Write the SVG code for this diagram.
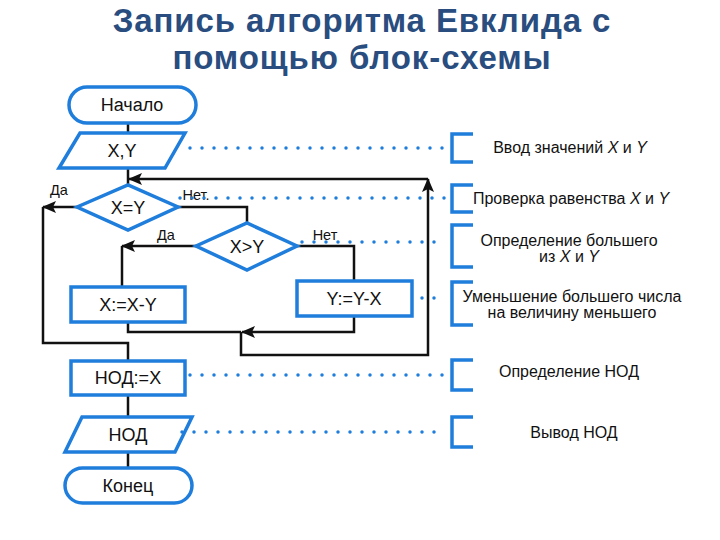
<svg xmlns="http://www.w3.org/2000/svg" width="720" height="540" viewBox="0 0 720 540">
<style>
.shape{fill:#fff;stroke:#1f7ddc;stroke-width:3.5;stroke-linejoin:miter}
.lbl{font-family:"Liberation Sans",Arial,sans-serif;font-size:18px;fill:#111;text-anchor:middle}
.sm{font-family:"Liberation Sans",Arial,sans-serif;font-size:14.5px;fill:#111;text-anchor:middle}
.ann{font-family:"Liberation Sans",Arial,sans-serif;font-size:16px;fill:#111;text-anchor:middle}
.title{font-family:"Liberation Sans",Arial,sans-serif;font-size:33px;font-weight:bold;fill:#2a4d7f;text-anchor:middle;letter-spacing:0.9px}
.wire{fill:none;stroke:#111;stroke-width:2.5}
.dots{fill:none;stroke:#1f7ddc;stroke-width:3.5;stroke-dasharray:0 12;stroke-linecap:round}
.brk{fill:none;stroke:#1f7ddc;stroke-width:3.5}
</style>
<defs>
<marker id="arr" markerUnits="userSpaceOnUse" markerWidth="14" markerHeight="12" viewBox="0 0 14 12" refX="13" refY="6" orient="auto">
<path d="M0,0 L14,6 L0,12 L3,6 Z" fill="#111"/>
</marker>
</defs>
<g id="title">
<text class="title" x="362" y="32">Запись алгоритма Евклида с</text>
<text class="title" x="362" y="69">помощью блок-схемы</text>
</g>
<g id="connectors">
<path class="wire" d="M128,123 V133"/>
<path class="wire" d="M128,168 V185"/>
<path class="wire" d="M241,332 V355 H428 V179" marker-end="url(#arr)"/>
<path class="wire" d="M428,179 H129" marker-end="url(#arr)"/>
<path class="wire" d="M77,207 H43" marker-end="url(#arr)"/>
<path class="wire" d="M43,207 V343 H128 V361"/>
<path class="wire" d="M178,207 H247 V223"/>
<path class="wire" d="M196,246 H122" marker-end="url(#arr)"/>
<path class="wire" d="M122,246 V287"/>
<path class="wire" d="M297,246 H354 V281"/>
<path class="wire" d="M128,322 V332 H241"/>
<path class="wire" d="M354,316 V332 H242" marker-end="url(#arr)"/>
<path class="wire" d="M128,395 V417"/>
<path class="wire" d="M128,452 V468"/>
</g>
<g id="labels">
<text class="sm" x="59" y="195">Да</text>
<text class="sm" x="196" y="200">Нет.</text>
<text class="sm" x="166" y="240">Да</text>
<text class="sm" x="325" y="240">Нет</text>
</g>
<g id="start"><rect class="shape" x="69" y="87" width="127" height="36" rx="18"/><text class="lbl" x="132" y="111">Начало</text></g>
<g id="input"><polygon class="shape" points="80,133 185,133 165,168 59,168"/><text class="lbl" x="122" y="157">X,Y</text></g>
<g id="dec1"><polygon class="shape" points="77,207 128,185 178,207 128,230"/><text class="lbl" x="128" y="214">X=Y</text></g>
<g id="dec2"><polygon class="shape" points="196,246 247,223 297,246 247,270"/><text class="lbl" x="247" y="253">X&gt;Y</text></g>
<g id="procA"><rect class="shape" x="71" y="287" width="114" height="35"/><text class="lbl" x="128" y="311">X:=X-Y</text></g>
<g id="procB"><rect class="shape" x="297" y="281" width="115" height="35"/><text class="lbl" x="354" y="305">Y:=Y-X</text></g>
<g id="gcd"><rect class="shape" x="71" y="361" width="114" height="34"/><text class="lbl" x="128" y="384">НОД:=X</text></g>
<g id="output"><polygon class="shape" points="82,417 192,417 175,452 65,452"/><text class="lbl" x="128" y="441">НОД</text></g>
<g id="end"><rect class="shape" x="65" y="468" width="127" height="35" rx="17.5"/><text class="lbl" x="128" y="492">Конец</text></g>
<g id="annotations">
<path class="dots" d="M190,148 H446"/>
<path class="dots" d="M180,198 H446"/>
<path class="dots" d="M302,242 H446"/>
<path class="dots" d="M422,298 H446"/>
<path class="dots" d="M190,375 H446"/>
<path class="dots" d="M182,432 H446"/>
<path class="brk" d="M473,134 H452 V162 H473"/>
<path class="brk" d="M473,185 H452 V212 H473"/>
<path class="brk" d="M473,225 H452 V267 H473"/>
<path class="brk" d="M473,282 H452 V325 H473"/>
<path class="brk" d="M473,360 H452 V390 H473"/>
<path class="brk" d="M473,417 H452 V447 H473"/>
<text class="ann" x="570" y="153">Ввод значений <tspan font-style="italic">X</tspan> и <tspan font-style="italic">Y</tspan></text>
<text class="ann" x="571" y="204">Проверка равенства <tspan font-style="italic">X</tspan> и <tspan font-style="italic">Y</tspan></text>
<text class="ann" x="569" y="246">Определение большего</text>
<text class="ann" x="569" y="262">из <tspan font-style="italic">X</tspan> и <tspan font-style="italic">Y</tspan></text>
<text class="ann" x="572" y="302">Уменьшение большего числа</text>
<text class="ann" x="572" y="318">на величину меньшего</text>
<text class="ann" x="569" y="377">Определение НОД</text>
<text class="ann" x="574" y="438">Вывод НОД</text>
</g>
</svg>
